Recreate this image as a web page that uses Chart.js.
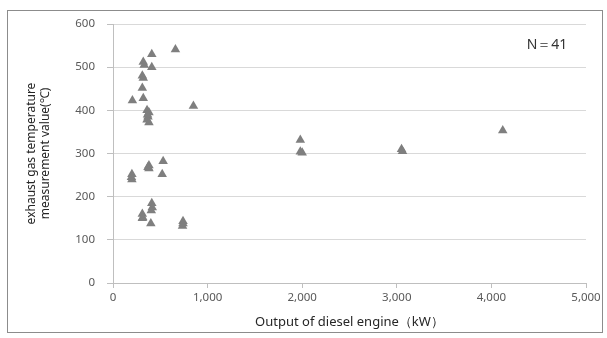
<!DOCTYPE html>
<html>
<head>
<meta charset="utf-8">
<script src="https://cdn.jsdelivr.net/npm/chart.js@4/dist/chart.umd.min.js"></script>
<style>
  html, body { margin: 0; padding: 0; background: #fff; }
  #wrap { position: relative; width: 607px; height: 338px; }
</style>
</head>
<body>
<div id="wrap"><canvas id="c" width="607" height="338"></canvas></div>
<script>
// Engine output (kW) and measured exhaust gas temperature (℃), 41 samples
const outputKW = [
  660, 410, 320, 330, 410, 310, 320, 310, 205, 320,
  850, 360, 380, 370, 360, 380, 200, 200, 380, 380,
  530, 520, 410, 415, 405, 310, 315, 310, 400, 740,
  735, 1980, 1980, 3050, 3060, 4120, 195, 370, 740, 2000,
  365
];
const exhaustTemp = [
  541, 530, 512, 505, 500, 480, 475, 452, 423, 428,
  410, 400, 395, 385, 378, 372, 252, 240, 272, 265,
  282, 252, 185, 175, 168, 160, 152, 150, 138, 143,
  132, 331, 304, 310, 305, 353, 245, 268, 138, 302,
  390
];
const xTicks = [0, 1000, 2000, 3000, 4000, 5000];
const yTicks = [0, 100, 200, 300, 400, 500, 600];
const sampleNote = 'N＝41';

const points = outputKW.map((x, i) => ({ x: x, y: exhaustTemp[i] }));

const frameAndNote = {
  id: 'frameAndNote',
  afterDraw(chart) {
    const ctx = chart.ctx;
    ctx.save();
    ctx.strokeStyle = '#8c8c8c';
    ctx.lineWidth = 1;
    ctx.strokeRect(7.5, 10.5, 595, 322);
    ctx.fillStyle = '#333333';
    ctx.font = '14px "Noto Sans", sans-serif';
    ctx.textAlign = 'center';
    ctx.textBaseline = 'middle';
    ctx.fillText(sampleNote, 547, 45);
    ctx.restore();
  }
};

new Chart(document.getElementById('c'), {
  type: 'scatter',
  data: {
    datasets: [{
      data: points,
      pointStyle: 'triangle',
      radius: 5.5,
      hoverRadius: 5.5,
      backgroundColor: '#7f7f7f',
      borderColor: '#7f7f7f',
      borderWidth: 0
    }]
  },
  options: {
    responsive: false,
    animation: false,
    events: [],
    layout: { padding: { left: 0, top: 24, right: 21, bottom: 8 } },
    plugins: { legend: { display: false }, tooltip: { enabled: false } },
    scales: {
      x: {
        type: 'linear',
        min: 0, max: 5000,
        afterBuildTicks: (s) => { s.ticks = xTicks.map(v => ({ value: v })); },
        afterFit: (s) => { s.height = 47; },
        grid: { display: true, drawOnChartArea: false, drawTicks: true, tickLength: 5, tickColor: '#bfbfbf' },
        border: { color: '#bfbfbf' },
        ticks: {
          color: '#595959', padding: 3,
          font: { family: '"Noto Sans", sans-serif', size: 11.5 },
          callback: (v) => v.toLocaleString('en-US')
        },
        title: {
          display: true, text: 'Output of diesel engine（kW）',
          color: '#262626', padding: { top: 2, bottom: 0 },
          font: { family: '"Noto Sans", sans-serif', size: 13 }
        }
      },
      y: {
        type: 'linear',
        min: 0, max: 600,
        afterBuildTicks: (s) => { s.ticks = yTicks.map(v => ({ value: v })); },
        afterFit: (s) => { s.width = 113; },
        grid: { color: '#d9d9d9', tickLength: 6, tickColor: '#bfbfbf' },
        border: { color: '#bfbfbf' },
        ticks: {
          color: '#595959', padding: 12,
          font: { family: '"Noto Sans", sans-serif', size: 11.5 }
        },
        title: {
          display: true, text: ['exhaust gas temperature', 'measurement value(℃)'],
          color: '#262626', padding: { top: 24, bottom: 0 },
          font: { family: '"Noto Sans", sans-serif', size: 12, lineHeight: 1.2 }
        }
      }
    }
  },
  plugins: [frameAndNote]
});
</script>
</body>
</html>
